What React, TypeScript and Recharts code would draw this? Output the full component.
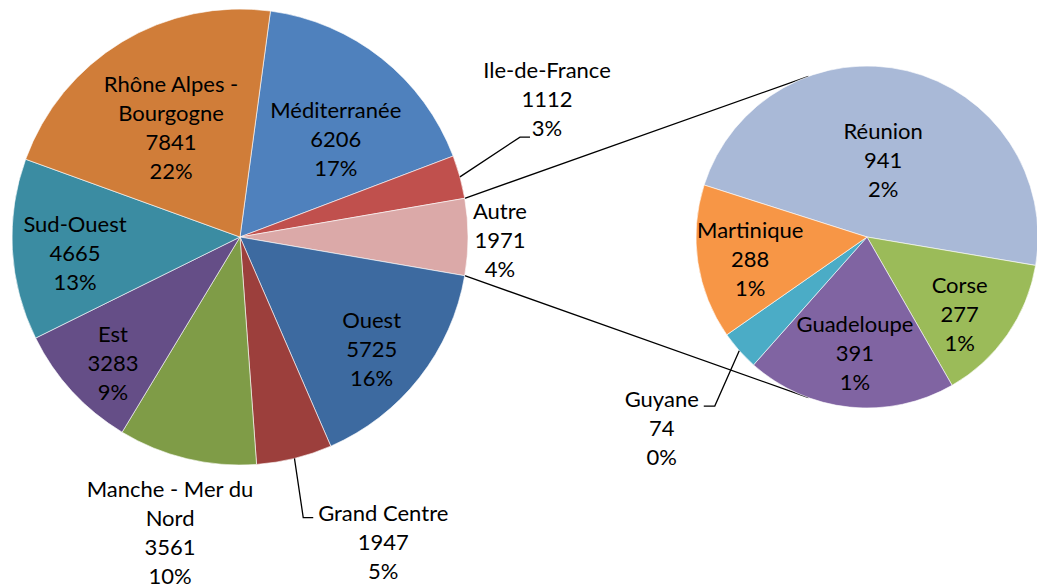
import { PieChart, Pie, Cell, Customized } from 'recharts';

// main pie: regions (clockwise from top)
const regions = ['Méditerranée', 'Ile-de-France', 'Autre', 'Ouest', 'Grand Centre', 'Manche - Mer du Nord', 'Est', 'Sud-Ouest', 'Rhône Alpes - Bourgogne'];
const regionValues = [6206, 1112, 1971, 5725, 1947, 3561, 3283, 4665, 7841];
const regionPercents = ['17%', '3%', '4%', '16%', '5%', '10%', '9%', '13%', '22%'];
const regionColors = ['#4F81BD', '#C0504D', '#DBA9A8', '#3D6AA0', '#9C3F3C', '#7F9C47', '#654E87', '#3B8CA2', '#D07D39'];

// second pie: breakdown of "Autre"
const others = ['Réunion', 'Corse', 'Guadeloupe', 'Guyane', 'Martinique'];
const otherValues = [941, 277, 391, 74, 288];
const otherPercents = ['2%', '1%', '1%', '0%', '1%'];
const otherColors = ['#A9B9D7', '#9BBB59', '#8064A2', '#4BACC6', '#F79646'];

const mainData = regions.map((name, i) => ({ name, value: regionValues[i], pct: regionPercents[i] }));
const subData = others.map((name, i) => ({ name, value: otherValues[i], pct: otherPercents[i] }));

const MAIN = { cx: 240, cy: 237, r: 228 };
const SUB = { cx: 867, cy: 237, r: 171 };
const SUB_START = 162.3;
const LINK_ANGLE = 110;

const total = regionValues.reduce((a, b) => a + b, 0);
const autreIdx = regions.indexOf('Autre');
const before = regionValues.slice(0, autreIdx).reduce((a, b) => a + b, 0);
const MAIN_START = ((before + regionValues[autreIdx] / 2) / total) * 360;
const autreHalf = (regionValues[autreIdx] / total) * 180;

const FONT = 'Lato, "Open Sans", sans-serif';
const FS = 22;
const LH = 29;
const RAD = Math.PI / 180;

const polar = (cx: number, cy: number, r: number, a: number) => ({
  x: cx + r * Math.cos(a * RAD),
  y: cy - r * Math.sin(a * RAD),
});

const wrap: Record<string, string[]> = {
  'Rhône Alpes - Bourgogne': ['Rhône Alpes -', 'Bourgogne'],
  'Manche - Mer du Nord': ['Manche - Mer du', 'Nord'],
};

// label placement: k = radius factor, da = angle shift, leader = elbow/end offsets from label centre
const labelLayout: Record<string, { k: number; da: number; leader?: number[] }> = {
  'Méditerranée': { k: 0.6, da: -6 },
  'Ile-de-France': { k: 1.476, da: 8.9, leader: [-27, 38, -17, 38] },
  'Autre': { k: 1.14, da: -0.7 },
  'Ouest': { k: 0.76, da: -2.4 },
  'Grand Centre': { k: 1.48, da: 11.3, leader: [-80, -25, -70, -25] },
  'Manche - Mer du Nord': { k: 1.335, da: 0.2 },
  'Est': { k: 0.785, da: 2.2 },
  'Sud-Ouest': { k: 0.727, da: 2.3 },
  'Rhône Alpes - Bourgogne': { k: 0.566, da: 1.1 },
  'Réunion': { k: 0.457, da: 1.7 },
  'Corse': { k: 0.706, da: -5 },
  'Guadeloupe': { k: 0.686, da: 0 },
  'Guyane': { k: 1.64, da: 1.3, leader: [53, -22, 42, -22] },
  'Martinique': { k: 0.695, da: 2.1 },
};

const renderLabel = (props: any) => {
  const { cx, cy, midAngle, outerRadius, payload } = props;
  const name = payload.name;
  const lay = labelLayout[name] || { k: 0.6, da: 0 };
  const p = polar(cx, cy, outerRadius * lay.k, midAngle + lay.da);
  const lines = [...(wrap[name] || [name]), String(payload.value), payload.pct];
  const top = p.y - ((lines.length - 1) / 2) * LH;
  let leader = null;
  if (lay.leader) {
    const s = polar(cx, cy, outerRadius, midAngle);
    const [ex, ey, tx, ty] = lay.leader;
    leader = (
      <polyline
        points={`${s.x},${s.y} ${p.x + ex},${p.y + ey} ${p.x + tx},${p.y + ty}`}
        fill="none"
        stroke="#000"
        strokeWidth={1.3}
      />
    );
  }
  return (
    <g key={name}>
      {leader}
      {lines.map((t, i) => (
        <text key={i} x={p.x} y={top + i * LH} dy="0.35em" textAnchor="middle" fill="#000" fontSize={FS} fontFamily={FONT}>
          {t}
        </text>
      ))}
    </g>
  );
};

const Connectors = () => {
  const a1 = polar(MAIN.cx, MAIN.cy, MAIN.r, autreHalf);
  const a2 = polar(MAIN.cx, MAIN.cy, MAIN.r, -autreHalf);
  const b1 = polar(SUB.cx, SUB.cy, SUB.r, LINK_ANGLE);
  const b2 = polar(SUB.cx, SUB.cy, SUB.r, -LINK_ANGLE);
  return (
    <g>
      <line x1={a1.x} y1={a1.y} x2={b1.x} y2={b1.y} stroke="#000" strokeWidth={1.3} />
      <line x1={a2.x} y1={a2.y} x2={b2.x} y2={b2.y} stroke="#000" strokeWidth={1.3} />
    </g>
  );
};

export default function App() {
  return (
    <div style={{ position: 'absolute', left: 0, top: 0, background: '#fff' }}>
      <PieChart width={1037} height={588} margin={{ top: 0, right: 0, bottom: 0, left: 0 }}>
        <Pie
          data={mainData}
          dataKey="value"
          nameKey="name"
          cx={MAIN.cx}
          cy={MAIN.cy}
          outerRadius={MAIN.r}
          startAngle={MAIN_START}
          endAngle={MAIN_START - 360}
          stroke="#fff"
          strokeWidth={0.6}
          label={renderLabel}
          labelLine={false}
          isAnimationActive={false}
        >
          {mainData.map((d, i) => (
            <Cell key={d.name} fill={regionColors[i]} />
          ))}
        </Pie>
        <Pie
          data={subData}
          dataKey="value"
          nameKey="name"
          cx={SUB.cx}
          cy={SUB.cy}
          outerRadius={SUB.r}
          startAngle={SUB_START}
          endAngle={SUB_START - 360}
          stroke="#fff"
          strokeWidth={0.6}
          label={renderLabel}
          labelLine={false}
          isAnimationActive={false}
        >
          {subData.map((d, i) => (
            <Cell key={d.name} fill={otherColors[i]} />
          ))}
        </Pie>
        <Customized component={Connectors} />
      </PieChart>
    </div>
  );
}
